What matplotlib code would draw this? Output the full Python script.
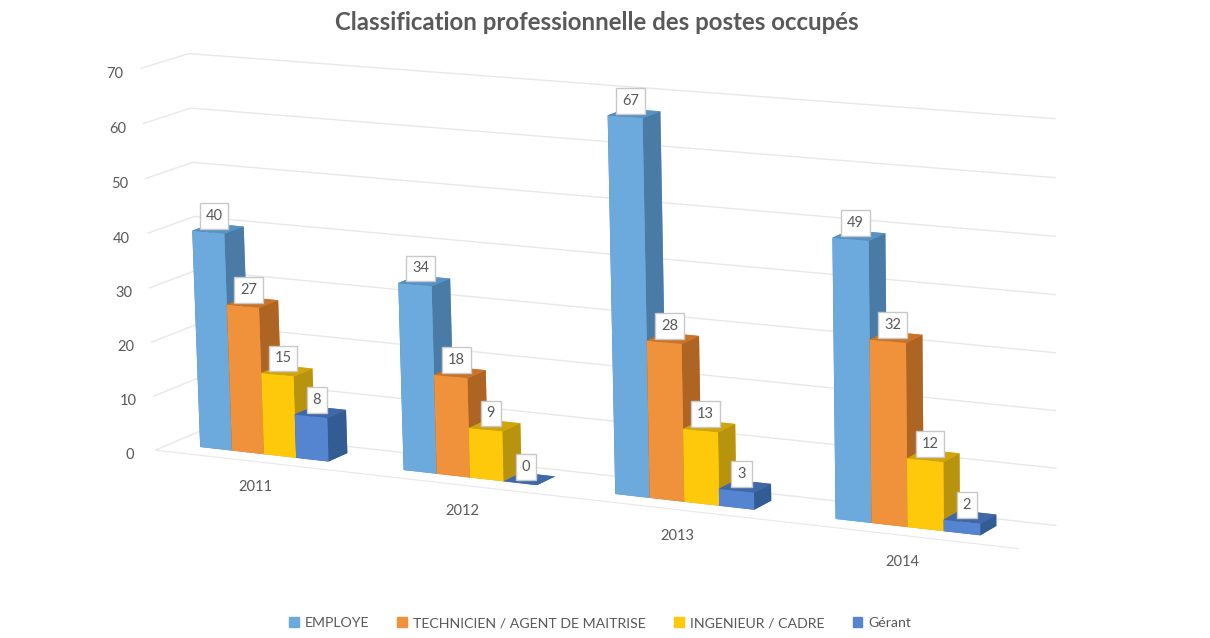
import numpy as np
import matplotlib
matplotlib.use("Agg")
import matplotlib.pyplot as plt
from matplotlib.patches import Patch
from mpl_toolkits.mplot3d import proj3d

plt.rcParams["font.family"] = ["Lato", "DejaVu Sans"]
plt.rcParams["grid.color"] = "#e8e8e8"
plt.rcParams["grid.linewidth"] = 1.0

years = ["2011", "2012", "2013", "2014"]
employe = [40, 34, 67, 49]
technicien = [27, 18, 28, 32]
ingenieur = [15, 9, 13, 12]
gerant = [8, 0, 3, 2]
series_names = ["EMPLOYE", "TECHNICIEN / AGENT DE MAITRISE", "INGENIEUR / CADRE", "Gérant"]
series = [employe, technicien, ingenieur, gerant]
front_colors = ["#6CAADD", "#F0913C", "#FFC90B", "#5585D0"]
top_colors = ["#5892C2", "#C9742A", "#CFA40E", "#4067A8"]
side_colors = ["#4A7BA6", "#AE6524", "#B8930E", "#335C94"]
text_color = "#595959"

W, H = 1210, 638
# camera fitted against the wall corners of the picture
cx, cy, size = 573.08, 305.17, 1029.98
gap, y_front, y_back = 0.1823, 0.3226, 0.7350
bar_w = (1 - 2 * gap) / 4

fig = plt.figure(figsize=(W / 100, H / 100), dpi=100)
ax = fig.add_axes([(cx - size / 2) / W, (H - cy - size / 2) / H, size / W, size / H],
                  projection="3d", proj_type="persp", focal_length=1)
ax.set_xlim(0.0337, 4.0351, view_margin=0)
ax.set_ylim(0, 1, view_margin=0)
ax.set_zlim(0, 70, view_margin=0)
ax.set_box_aspect((12.4890, 1.1917, 5.1583))
ax.view_init(12.5277, -61.8971, 1.2041)
ax.computed_zorder = False

ax.set_xticks(np.arange(len(years)) + 0.54, years)
ax.set_yticks([])
ax.set_zticks(range(0, 71, 10))
ax.zaxis.set_ticks_position("lower")
ax.tick_params(axis="both", color=(1, 1, 1, 0), labelcolor=text_color, labelsize=10.5)
ax.tick_params(axis="x", pad=10)
for axis in (ax.xaxis, ax.yaxis, ax.zaxis):
    axis.set_pane_color((1, 1, 1, 0))
    axis.pane.set_edgecolor((1, 1, 1, 0))
    axis.line.set_color((1, 1, 1, 0))
ax.xaxis.line.set_color("#e8e8e8")
ax.xaxis._axinfo["grid"]["color"] = (1, 1, 1, 0)

M = ax.get_proj()
n = 0
for i in range(len(years)):
    for k, vals in enumerate(series):
        # bar3d face order: bottom, top, front, back, left, right
        face = [top_colors[k], top_colors[k], front_colors[k], front_colors[k], side_colors[k], side_colors[k]]
        bar = ax.bar3d(i + gap + k * bar_w, y_front, 0, bar_w, y_back - y_front, vals[i],
                       color=face, shade=False, linewidth=0)
        bar.set_zorder(10 + n)
        n += 1
        px, py, _ = proj3d.proj_transform(i + gap + (k + 0.5) * bar_w, y_front + 0.3 * (y_back - y_front), vals[i], M)
        ax.annotate(str(vals[i]), (px, py), xytext=(0, 10), textcoords="offset points", ha="center", va="center",
                    color=text_color, fontsize=10.5, zorder=100 + n,
                    bbox=dict(boxstyle="square,pad=0.4", fc="white", ec="#c8c8c8", lw=1))

fig.text(597 / W, 1 - 22 / H, "Classification professionnelle des postes occupés", ha="center", va="center",
         fontsize=17.3, fontweight="bold", color=text_color)
handles = [Patch(color=c) for c in front_colors]
fig.legend(handles, series_names, loc="center", bbox_to_anchor=(600 / W, 1 - 623 / H), ncols=4, frameon=False,
           fontsize=10.2, labelcolor=text_color, handlelength=0.7, handleheight=0.7, handletextpad=0.4,
           columnspacing=2.0)

fig.savefig("out.png")
